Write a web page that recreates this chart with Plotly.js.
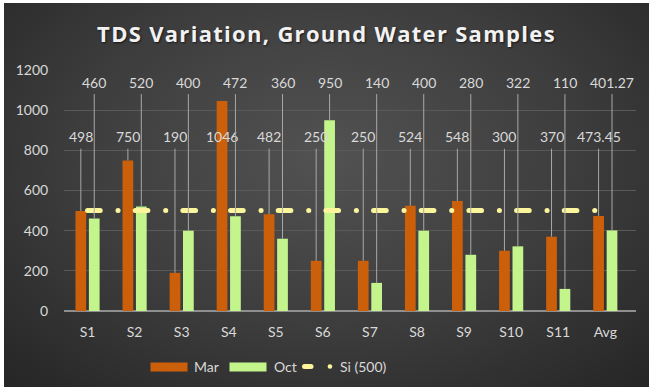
<!DOCTYPE html>
<html>
<head>
<meta charset="utf-8">
<script src="https://cdn.plot.ly/plotly-3.0.1.min.js"></script>
<style>
  html, body { margin: 0; padding: 0; background: #ffffff; width: 649px; height: 389px; overflow: hidden; }
  #chart {
    position: absolute; left: 4px; top: 3px; width: 645px; height: 384px;
    background: radial-gradient(ellipse 70% 80% at 50% 40%, #525252 0%, #3d3d3d 55%, #272727 100%);
  }
  .scatterlayer path.js-line { stroke-linecap: round; }
  .shapelayer path { stroke-linecap: round; }
  .gtitle { letter-spacing: 1.3px; }
</style>
</head>
<body>
<div id="chart"></div>
<script>
// ---- data ----
const categories = ['S1','S2','S3','S4','S5','S6','S7','S8','S9','S10','S11','Avg'];
const marValues = [498, 750, 190, 1046, 482, 250, 250, 524, 548, 300, 370, 473.45];
const octValues = [460, 520, 400, 472, 360, 950, 140, 400, 280, 322, 110, 401.27];
const siValues  = [500, 500, 500, 500, 500, 500, 500, 500, 500, 500, 500, 500];
const seriesNames = ['Mar', 'Oct', 'Si (500)'];
const yTicks = [0, 200, 400, 600, 800, 1000, 1200];

// ---- layout constants ----
const W = 645, H = 384;
const M = {l: 60, r: 13, t: 67, b: 76};
const plotW = W - M.l - M.r;
const plotH = H - M.t - M.b;
const step = plotW / categories.length;
const barGap = 0.43, barGroupGap = 0.2;
const offset = (1 - barGap) / 4;      // category-units offset of each bar in the group
const marColor = '#cc5f0a', octColor = '#c4f58c', siColor = '#fbf59b';
const txtColor = '#d9d9d9', leaderColor = '#a8a8a8';
const FONT = 'Lato, "Open Sans", sans-serif';
const marLabelLevel = 868, octLabelLevel = 1140;

// dash pattern synced to category spacing (dash on Oct bar, dot between)
const d1 = step * 0.266, g1 = step * 0.373, dot = 0.1;
const g2 = step - d1 - g1 - dot;
const siDash = [d1, g1, dot, g2].map(v => v.toFixed(2) + 'px').join(',');

const traces = [
  {type: 'bar', name: seriesNames[0], x: categories, y: marValues,
   marker: {color: marColor}, showlegend: false},
  {type: 'bar', name: seriesNames[1], x: categories, y: octValues,
   marker: {color: octColor}, showlegend: false},
  {type: 'scatter', mode: 'lines', name: seriesNames[2], x: categories, y: siValues,
   line: {color: siColor, width: 5, dash: siDash}, showlegend: false}
];

// ---- data labels with leader lines ----
const annotations = [];
function addLabel(i, v, dx, level) {
  const a = {
    x: i + dx, xref: 'x', yref: 'y',
    text: String(v),
    font: {family: FONT, size: 14, color: txtColor}
  };
  if (v < level) {
    Object.assign(a, {y: v, showarrow: true, axref: 'pixel', ax: 0, ayref: 'y', ay: level,
      arrowhead: 0, arrowwidth: 1, arrowcolor: leaderColor, standoff: 0, startstandoff: 2});
  } else {
    Object.assign(a, {y: level, showarrow: false, yanchor: 'middle'});
  }
  annotations.push(a);
}
categories.forEach((c, i) => {
  addLabel(i, marValues[i], -offset, marLabelLevel);
  addLabel(i, octValues[i], offset, octLabelLevel);
});

// ---- custom legend (page px -> paper) ----
const px2x = px => (px - 4 - M.l) / plotW;
const py2y = py => (3 + M.t + plotH - py) / plotH;
const legY = 366.5;
const shapes = [
  {type: 'rect', xref: 'paper', yref: 'paper', x0: px2x(150.5), x1: px2x(187.5),
   y0: py2y(362.5), y1: py2y(371.5), fillcolor: marColor, line: {width: 0}},
  {type: 'rect', xref: 'paper', yref: 'paper', x0: px2x(229.5), x1: px2x(266.5),
   y0: py2y(362.5), y1: py2y(371.5), fillcolor: octColor, line: {width: 0}},
  {type: 'line', xref: 'paper', yref: 'paper', x0: px2x(304.5), x1: px2x(311),
   y0: py2y(legY), y1: py2y(legY), line: {color: siColor, width: 5}},
  {type: 'line', xref: 'paper', yref: 'paper', x0: px2x(329.9), x1: px2x(330),
   y0: py2y(legY), y1: py2y(legY), line: {color: siColor, width: 4.5}}
];
[[192, seriesNames[0]], [272, seriesNames[1]], [338, seriesNames[2]]].forEach(([px, t]) => {
  annotations.push({xref: 'paper', yref: 'paper', x: px2x(px), y: py2y(legY),
    xanchor: 'left', yanchor: 'middle', showarrow: false, text: t,
    font: {family: FONT, size: 14, color: txtColor}});
});

const layout = {
  width: W, height: H,
  margin: M,
  paper_bgcolor: 'rgba(0,0,0,0)',
  plot_bgcolor: 'rgba(0,0,0,0)',
  title: {text: '<b>TDS Variation, Ground Water Samples</b>',
          font: {family: '"Open Sans", Lato, sans-serif', size: 22, color: '#f2f2f2',
                 shadow: '1px 1px 2px rgba(0,0,0,0.6)'},
          x: 0.5, xanchor: 'center', y: 1 - 31 / H, yanchor: 'middle'},
  barmode: 'group', bargap: barGap, bargroupgap: barGroupGap,
  hovermode: false,
  showlegend: false,
  xaxis: {type: 'category', showgrid: false, zeroline: false, showline: false,
          ticks: 'outside', ticklen: 8, tickcolor: 'rgba(0,0,0,0)',
          tickfont: {family: FONT, size: 14, color: txtColor}, fixedrange: true},
  yaxis: {range: [0, 1200], tickvals: yTicks, ticktext: yTicks.map(String),
          showgrid: true, gridcolor: '#5a5a5a', gridwidth: 1,
          zeroline: true, zerolinecolor: '#8f8f8f', zerolinewidth: 1.3,
          ticks: 'outside', ticklen: 12, tickcolor: 'rgba(0,0,0,0)',
          tickfont: {family: FONT, size: 14, color: txtColor}, fixedrange: true},
  annotations: annotations,
  shapes: shapes
};

Plotly.newPlot('chart', traces, layout, {displayModeBar: false, staticPlot: true});
</script>
</body>
</html>
